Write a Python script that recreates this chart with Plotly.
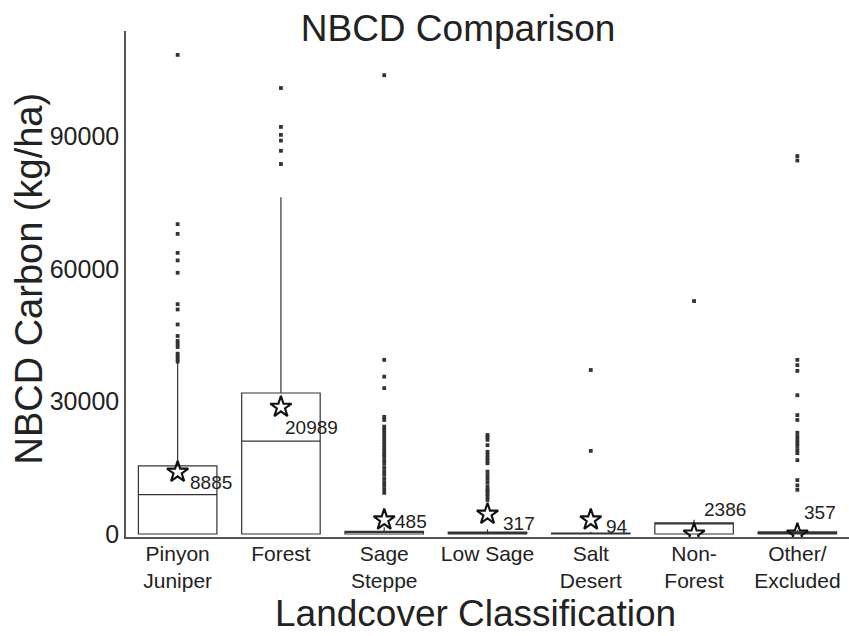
import plotly.graph_objects as go

# Landcover classes (x categories)
categories = ["Pinyon<br>Juniper", "Forest", "Sage<br>Steppe", "Low Sage",
              "Salt<br>Desert", "Non-<br>Forest", "Other/<br>Excluded"]

# Box statistics, NBCD carbon (kg/ha)
q1_vals = [0, 0, 0, 0, 0, 0, 0]
median_vals = [8885, 20989, 485, 317, 94, 2386, 357]
q3_vals = [15400, 31900, 600, 420, 200, 2500, 480]
upper_fence = [38800, 76200, 1500, 1100, 500, 3200, 900]
lower_fence = [0, 0, 0, 0, 0, 0, 0]
mean_vals = [14000, 28700, 3200, 4500, 3200, 0, 0]

# Outliers per class
pinyon_out = [108400, 70100, 67900, 63600, 61900, 59100, 52000, 50800, 47400,
              44800, 43700, 43000, 42300, 40800, 40200, 39600, 39000]
forest_out = [100900, 92100, 90300, 89000, 86700, 83700]
sage_steppe_out = [103800, 39400, 35600, 33000, 26500, 25800, 24300, 23600,
                   22900, 22200, 21500, 20800, 20100, 19400, 18700, 18000,
                   17500, 16700, 15900, 15000, 14200, 13400, 12500, 11700,
                   10900, 10100, 9300]
low_sage_out = [22400, 21900, 21300, 20100, 18600, 17900, 17200, 16600, 16000,
                14100, 13300, 12500, 11700, 10800, 10000, 9600, 9000, 8400, 7700]
salt_desert_out = [37100, 18800]
non_forest_out = [52700]
other_out = [85500, 84500, 39400, 38200, 36900, 31400, 26900, 25800, 22900,
             22100, 21300, 20600, 19900, 19000, 18300, 16700, 12200, 11000, 10000]

outliers = [pinyon_out, forest_out, sage_steppe_out, low_sage_out,
            salt_desert_out, non_forest_out, other_out]

y_ticks = [0, 30000, 60000, 90000]

FONT = "Liberation Sans, Arial, sans-serif"
INK = "#222222"

fig = go.Figure()

fig.add_trace(go.Box(
    x=categories,
    q1=q1_vals, median=median_vals, q3=q3_vals,
    lowerfence=lower_fence, upperfence=upper_fence,
    boxpoints=False, width=0.76, whiskerwidth=0,
    fillcolor="rgba(255,255,255,0)",
    line=dict(color="#333333", width=1.2),
    hoverinfo="skip",
))

out_x, out_y = [], []
for cat, vals in zip(categories, outliers):
    out_x += [cat] * len(vals)
    out_y += vals
fig.add_trace(go.Scatter(
    x=out_x, y=out_y, mode="markers",
    marker=dict(symbol="square", size=3.8, color="#333333"),
    hoverinfo="skip",
))

fig.add_trace(go.Scatter(
    x=categories, y=mean_vals, mode="markers",
    marker=dict(symbol="star-open", size=16, color="#111111",
                line=dict(width=2.1, color="#111111")),
    hoverinfo="skip",
))

# median value labels beside the mean stars (pixel offsets)
label_shift = [(10, -10), (2, -20), (9, -2), (13, -9), (13, -7), (8, 24), (5, 21)]
for cat, m, med, (dx, dy) in zip(categories, mean_vals, median_vals, label_shift):
    fig.add_annotation(x=cat, y=m, text=str(med), showarrow=False,
                       xanchor="left", yanchor="middle", xshift=dx, yshift=dy,
                       font=dict(family=FONT, size=19, color=INK))

# axis titles
fig.add_annotation(xref="paper", yref="paper", x=0.483, y=-0.151,
                   text="Landcover Classification", showarrow=False,
                   xanchor="center", yanchor="middle",
                   font=dict(family=FONT, size=37, color=INK))
fig.add_annotation(xref="paper", yref="paper", x=-0.134, y=0.511,
                   text="NBCD Carbon (kg/ha)", showarrow=False, textangle=-90,
                   xanchor="center", yanchor="middle",
                   font=dict(family=FONT, size=38, color=INK))

fig.update_layout(
    width=849, height=636,
    margin=dict(l=126, r=0, t=31, b=99),
    plot_bgcolor="white", paper_bgcolor="white",
    showlegend=False,
    title=dict(text="NBCD Comparison", xref="container", yref="container",
               x=0.5395, y=1 - 28 / 636, xanchor="center", yanchor="middle",
               font=dict(family=FONT, size=37, color=INK)),
    font=dict(family=FONT, color=INK),
)

fig.update_xaxes(
    type="category", categoryorder="array", categoryarray=categories,
    range=[-0.5, 6.5], showline=True, linecolor="#555555", linewidth=1.5,
    ticks="", showgrid=False, zeroline=False, ticklabelstandoff=-3,
    tickfont=dict(family=FONT, size=21, color=INK),
)
fig.update_yaxes(
    range=[-680, 113800], tickvals=y_ticks, ticktext=[str(v) for v in y_ticks],
    showline=True, linecolor="#555555", linewidth=1.5,
    ticks="", showgrid=False, zeroline=False,
    tickfont=dict(family=FONT, size=25, color=INK),
)

fig.write_html("out.html")
